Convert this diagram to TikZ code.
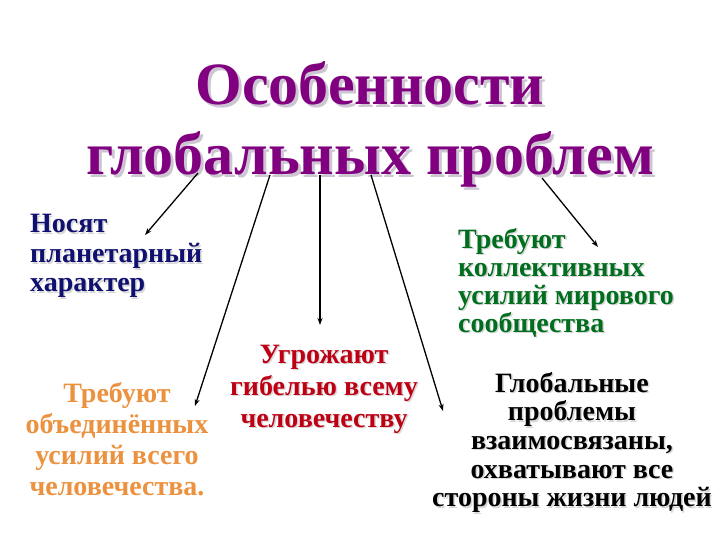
\documentclass[tikz,border=0pt]{standalone}
\usepackage{fontspec}
\setmainfont{Liberation Serif}
\usetikzlibrary{arrows.meta}
\definecolor{ttl}{RGB}{128,0,128}
\definecolor{ttlsh}{RGB}{205,198,210}
\definecolor{navy}{RGB}{16,16,112}
\definecolor{grn}{RGB}{0,110,30}
\definecolor{rd}{RGB}{190,0,20}
\definecolor{org}{RGB}{236,146,62}
\definecolor{softsh}{RGB}{215,215,215}
\newcommand\stkC[2]{\vtop{\baselineskip=#1\lineskiplimit=-100pt\lineskip=0pt\tabskip=0pt\halign{\hfil##\hfil\cr#2\crcr}}}
\newcommand\stkL[2]{\vtop{\baselineskip=#1\lineskiplimit=-100pt\lineskip=0pt\tabskip=0pt\halign{##\hfil\cr#2\crcr}}}
\tikzset{
  txt/.style={inner sep=0pt, font=\fontsize{28}{30}\selectfont\bfseries},
  ttlfont/.style={inner sep=0pt, font=\fontsize{60}{70}\selectfont\bfseries},
  arr/.style={draw=black, line width=1.3pt, -{Stealth[length=7pt,width=5pt]}},
}
\begin{document}
\begin{tikzpicture}[x=1pt,y=-1pt]
\useasboundingbox[fill=white] (0,0) rectangle (720,540);
% title
\node[ttlfont, text=ttlsh, anchor=base] (titlesh) at (373,108) {\stkC{70pt}{Особенности\cr глобальных проблем}};
\node[ttlfont, text=ttl, anchor=base] (title) at (370,105) {\stkC{70pt}{Особенности\cr глобальных проблем}};
% texts
\node[txt, text=softsh, anchor=base west] at (31.5,234.5) {\stkL{29.5pt}{Носят\cr планетарный\cr характер}};
\node[txt, text=navy, anchor=base west] (planet) at (30,233) {\stkL{29.5pt}{Носят\cr планетарный\cr характер}};
\node[txt, text=softsh, anchor=base west] at (459.5,249.5) {\stkL{28pt}{Требуют\cr коллективных\cr усилий мирового\cr сообщества}};
\node[txt, text=grn, anchor=base west] (collect) at (458,248) {\stkL{28pt}{Требуют\cr коллективных\cr усилий мирового\cr сообщества}};
\node[txt, text=softsh, anchor=base] at (325.5,364.5) {\stkC{32pt}{Угрожают\cr гибелью всему\cr человечеству}};
\node[txt, text=rd, anchor=base] (threat) at (324,363) {\stkC{32pt}{Угрожают\cr гибелью всему\cr человечеству}};
\node[txt, text=org, anchor=base] (united) at (117,402) {\stkC{31pt}{Требуют\cr объединённых\cr усилий всего\cr человечества.}};
\node[txt, text=softsh, anchor=base] at (573.5,393.5) {\stkC{28.7pt}{Глобальные\cr проблемы\cr взаимосвязаны,\cr охватывают все\cr стороны жизни людей}};
\node[txt, text=black, anchor=base] (linked) at (572,392) {\stkC{28.7pt}{Глобальные\cr проблемы\cr взаимосвязаны,\cr охватывают все\cr стороны жизни людей}};
% arrow ends
\coordinate (s1) at (198,173); \coordinate (e1) at (145,235);
\coordinate (s2) at (270,175); \coordinate (e2) at (195,406);
\coordinate (s3) at (320,175); \coordinate (e3) at (320,325);
\coordinate (s4) at (371,175); \coordinate (e4) at (443,411);
\coordinate (s5) at (542,178); \coordinate (e5) at (598,247);
\draw[arr] (s1) -- (e1);
\draw[arr] (s2) -- (e2);
\draw[arr, line width=2pt] (s3) -- (e3);
\draw[arr] (s4) -- (e4);
\draw[arr] (s5) -- (e5);
\end{tikzpicture}
\end{document}
